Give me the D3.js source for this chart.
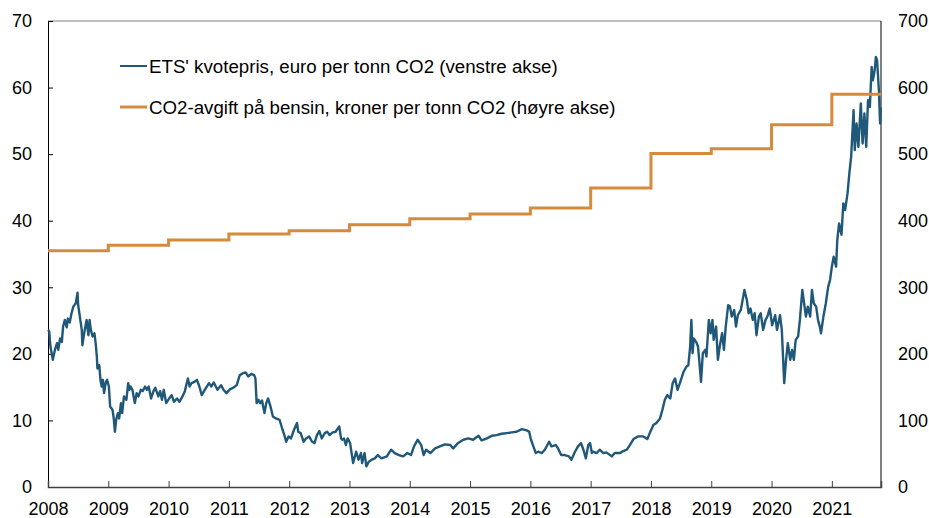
<!DOCTYPE html>
<html><head><meta charset="utf-8">
<script src="https://cdn.jsdelivr.net/npm/d3@7/dist/d3.min.js"></script>
<style>body{margin:0;background:#fff}svg{display:block;font-family:"Liberation Sans",Arial,sans-serif}</style>
</head><body><svg id="c" width="929" height="518"></svg>
<script>
// ETS allowance price, euro per tonne CO2 (left axis) — date as fractional year
const etsTime = [2008.00,2008.02,2008.04,2008.08,2008.12,2008.15,2008.17,2008.20,2008.23,2008.25,2008.28,2008.31,2008.33,2008.36,2008.39,2008.42,2008.46,2008.49,2008.50,2008.52,2008.56,2008.57,2008.60,2008.64,2008.67,2008.69,2008.71,2008.74,2008.77,2008.79,2008.81,2008.82,2008.85,2008.87,2008.89,2008.91,2008.93,2008.96,2008.98,2009.01,2009.03,2009.07,2009.09,2009.11,2009.13,2009.16,2009.18,2009.21,2009.23,2009.26,2009.30,2009.33,2009.35,2009.37,2009.40,2009.44,2009.47,2009.50,2009.54,2009.57,2009.61,2009.64,2009.67,2009.71,2009.75,2009.78,2009.83,2009.86,2009.89,2009.92,2009.96,2010.01,2010.05,2010.09,2010.14,2010.18,2010.23,2010.27,2010.32,2010.35,2010.38,2010.43,2010.47,2010.51,2010.55,2010.60,2010.67,2010.71,2010.75,2010.81,2010.87,2010.91,2010.96,2011.02,2011.07,2011.13,2011.18,2011.23,2011.28,2011.32,2011.37,2011.42,2011.44,2011.46,2011.49,2011.52,2011.55,2011.59,2011.62,2011.65,2011.69,2011.73,2011.78,2011.84,2011.89,2011.92,2011.95,2011.99,2012.03,2012.08,2012.13,2012.15,2012.19,2012.24,2012.28,2012.33,2012.38,2012.42,2012.46,2012.50,2012.54,2012.59,2012.63,2012.67,2012.72,2012.77,2012.83,2012.86,2012.88,2012.91,2012.94,2012.97,2013.01,2013.06,2013.11,2013.15,2013.19,2013.21,2013.25,2013.28,2013.32,2013.37,2013.42,2013.47,2013.53,2013.62,2013.69,2013.75,2013.82,2013.89,2013.96,2014.02,2014.07,2014.13,2014.19,2014.23,2014.27,2014.34,2014.42,2014.50,2014.58,2014.67,2014.72,2014.80,2014.89,2014.97,2015.05,2015.14,2015.19,2015.28,2015.36,2015.44,2015.52,2015.61,2015.69,2015.77,2015.86,2015.94,2015.98,2016.01,2016.05,2016.09,2016.13,2016.19,2016.24,2016.31,2016.35,2016.42,2016.46,2016.51,2016.57,2016.64,2016.68,2016.74,2016.79,2016.84,2016.88,2016.92,2016.96,2016.99,2017.02,2017.04,2017.10,2017.15,2017.21,2017.26,2017.35,2017.40,2017.49,2017.54,2017.60,2017.65,2017.71,2017.79,2017.87,2017.94,2017.98,2018.04,2018.09,2018.15,2018.19,2018.23,2018.27,2018.32,2018.36,2018.40,2018.44,2018.48,2018.54,2018.59,2018.62,2018.65,2018.67,2018.69,2018.71,2018.75,2018.78,2018.80,2018.83,2018.86,2018.90,2018.92,2018.96,2018.99,2019.02,2019.04,2019.08,2019.11,2019.14,2019.18,2019.21,2019.24,2019.28,2019.31,2019.34,2019.38,2019.41,2019.44,2019.49,2019.52,2019.55,2019.59,2019.62,2019.65,2019.69,2019.72,2019.75,2019.79,2019.82,2019.86,2019.90,2019.93,2019.97,2020.01,2020.06,2020.09,2020.14,2020.17,2020.21,2020.24,2020.27,2020.31,2020.34,2020.37,2020.40,2020.44,2020.47,2020.51,2020.54,2020.57,2020.60,2020.64,2020.67,2020.70,2020.74,2020.77,2020.80,2020.82,2020.86,2020.90,2020.94,2020.97,2021.00,2021.03,2021.07,2021.09,2021.12,2021.16,2021.19,2021.22,2021.26,2021.29,2021.32,2021.36,2021.38,2021.41,2021.44,2021.48,2021.51,2021.54,2021.57,2021.60,2021.63,2021.66,2021.68,2021.71,2021.73,2021.75,2021.78,2021.80,2021.81];
const etsPrice = [23.6,23.4,21.1,19.1,20.8,21.6,20.6,22.3,21.8,24.1,25.1,24.0,25.3,24.7,26.1,27.1,27.6,29.2,27.4,26.1,23.6,21.3,23.1,25.1,22.8,25.1,23.6,22.6,23.1,21.6,19.6,17.8,18.3,16.1,15.1,16.1,14.1,15.8,16.1,15.1,12.1,11.6,10.3,8.3,10.1,11.1,10.3,12.6,11.1,13.6,13.1,15.6,14.6,15.1,14.6,12.6,14.1,13.6,14.6,14.4,15.1,14.6,15.1,13.3,14.4,14.9,13.6,14.4,13.1,14.6,12.6,13.3,13.8,12.8,13.3,12.8,13.6,14.4,16.3,15.1,15.6,15.8,16.1,15.1,13.8,14.6,15.6,15.1,15.7,14.6,15.3,14.6,14.1,14.7,14.9,15.3,16.8,17.1,17.2,16.6,17.0,16.8,16.3,12.6,13.1,12.6,13.0,11.1,12.6,13.3,12.1,10.6,10.3,10.1,8.6,7.8,6.8,7.6,7.3,8.6,9.6,8.3,8.1,6.8,7.3,7.6,6.8,6.6,7.8,8.4,7.3,8.1,8.3,7.8,8.2,8.3,9.1,7.3,7.1,7.3,6.3,7.3,6.6,3.6,5.3,4.1,5.1,3.6,5.1,3.1,3.8,4.1,4.3,4.8,4.3,4.6,5.6,5.1,4.8,4.6,5.1,4.8,6.1,7.1,6.3,4.8,5.6,5.1,5.8,6.1,6.4,6.3,5.8,6.6,7.1,7.3,7.1,7.7,7.0,7.3,7.7,7.8,8.0,8.1,8.2,8.3,8.7,8.5,8.3,7.1,6.1,5.1,5.3,5.1,5.6,6.8,6.1,6.3,5.8,4.8,4.8,4.6,4.1,5.3,6.1,6.6,5.6,4.3,6.3,6.6,5.1,5.3,5.1,5.6,5.1,5.2,4.6,5.1,5.1,5.4,5.6,6.3,7.2,7.6,7.6,7.2,8.1,9.3,9.6,10.3,11.6,13.1,13.8,13.3,15.6,16.3,14.6,15.6,17.3,18.1,18.3,21.1,25.1,20.1,22.3,21.8,21.1,19.1,15.8,20.1,20.6,19.6,25.1,23.1,25.1,22.1,24.1,19.1,21.1,23.1,20.6,24.1,27.3,27.1,25.6,26.6,24.1,25.8,26.6,28.1,29.6,28.1,26.1,26.8,25.1,26.1,22.8,25.6,26.1,23.6,25.1,25.6,26.8,24.3,25.8,23.6,25.8,23.6,15.6,19.1,21.6,19.1,20.6,19.1,22.1,22.6,25.1,29.6,27.6,25.6,27.1,25.6,29.6,27.6,27.1,25.1,24.1,23.1,25.6,27.6,30.1,31.1,33.1,34.6,33.1,37.1,39.6,37.9,42.6,41.6,44.1,47.1,49.6,56.6,50.6,54.6,51.1,57.6,51.6,56.1,51.1,58.1,57.1,63.1,61.1,62.6,64.6,64.1,59.6,54.6,57.0];
// CO2 tax on petrol, NOK per tonne CO2 (right axis), from 1 January each year
const taxYears = [2008,2009,2010,2011,2012,2013,2014,2015,2016,2017,2018,2019,2020,2021,2021.815];
const taxValues = [355,363,371,380,385,394,403,410,419,449,501,508,544,590,590];
const yearTicks = [2008,2009,2010,2011,2012,2013,2014,2015,2016,2017,2018,2019,2020,2021];
const leftTicks = [0,10,20,30,40,50,60,70];
const rightTicks = [0,100,200,300,400,500,600,700];
const legendLabels = ["ETS' kvotepris, euro per tonn CO2 (venstre akse)","CO2-avgift på bensin, kroner per tonn CO2 (høyre akse)"];

const blue = "#1f5878", orange = "#d68a3c";
const svg = d3.select("#c");
const L = 48, R = 881, T = 21, B = 487;
const x = d3.scaleLinear().domain([2008, 2021.815]).range([L, R]);
const yL = d3.scaleLinear().domain([0, 70]).range([B, T]);
const yR = d3.scaleLinear().domain([0, 700]).range([B, T]);
const fs = 18;

// frame
svg.append("line").attr("x1",L).attr("x2",R).attr("y1",T).attr("y2",T).attr("stroke","#808080").attr("stroke-width",1);
svg.append("line").attr("x1",R).attr("x2",R).attr("y1",T).attr("y2",B).attr("stroke","#000").attr("stroke-width",1);

// left axis
const gl = svg.append("g").attr("transform",`translate(${L},0)`)
  .call(d3.axisRight(yL).tickValues(leftTicks).tickSize(5).tickFormat(d3.format("d")));
gl.select(".domain").attr("stroke","#000");
gl.selectAll(".tick line").attr("stroke","#000");
gl.selectAll(".tick text").attr("x",-16).attr("text-anchor","end").attr("font-size",fs).attr("fill","#000").attr("font-family","Liberation Sans, Arial, sans-serif");

// right axis labels
const gr = svg.append("g").attr("transform",`translate(${R},0)`)
  .call(d3.axisRight(yR).tickValues(rightTicks).tickSize(0).tickFormat(d3.format("d")));
gr.select(".domain").remove();
gr.selectAll(".tick text").attr("x",17).attr("font-size",fs).attr("fill","#000").attr("font-family","Liberation Sans, Arial, sans-serif");

// bottom axis
const gb = svg.append("g").attr("transform",`translate(0,${B})`)
  .call(d3.axisTop(x).tickValues(yearTicks).tickSize(6).tickFormat(d3.format("d")));
gb.select(".domain").attr("stroke","#404040").attr("stroke-width",1.5);
gb.selectAll(".tick line").attr("stroke","#404040");
gb.selectAll(".tick text").attr("y",28).attr("dy",0).attr("font-size",fs).attr("fill","#000").attr("font-family","Liberation Sans, Arial, sans-serif");

// ETS line
const ets = etsTime.map((t,i)=>[t, etsPrice[i]]);
svg.append("path").datum(ets).attr("fill","none").attr("stroke",blue).attr("stroke-width",2.4).attr("stroke-linejoin","round")
  .attr("d", d3.line().x(d=>x(d[0])).y(d=>yL(d[1])));

// tax step line
const tax = taxYears.map((t,i)=>[t, taxValues[i]]);
svg.append("path").datum(tax).attr("fill","none").attr("stroke",orange).attr("stroke-width",3)
  .attr("d", d3.line().curve(d3.curveStepAfter).x(d=>x(d[0])).y(d=>yR(d[1])));

// legend
const leg = svg.append("g");
[[blue,66,2],[orange,107,3]].forEach((c,i)=>{
  leg.append("line").attr("x1",120).attr("x2",147).attr("y1",c[1]).attr("y2",c[1]).attr("stroke",c[0]).attr("stroke-width",c[2]);
  leg.append("text").attr("x",149).attr("y",c[1]).attr("dy","0.35em").attr("font-size",18.7).attr("fill","#000").text(legendLabels[i]);
});
</script></body></html>
